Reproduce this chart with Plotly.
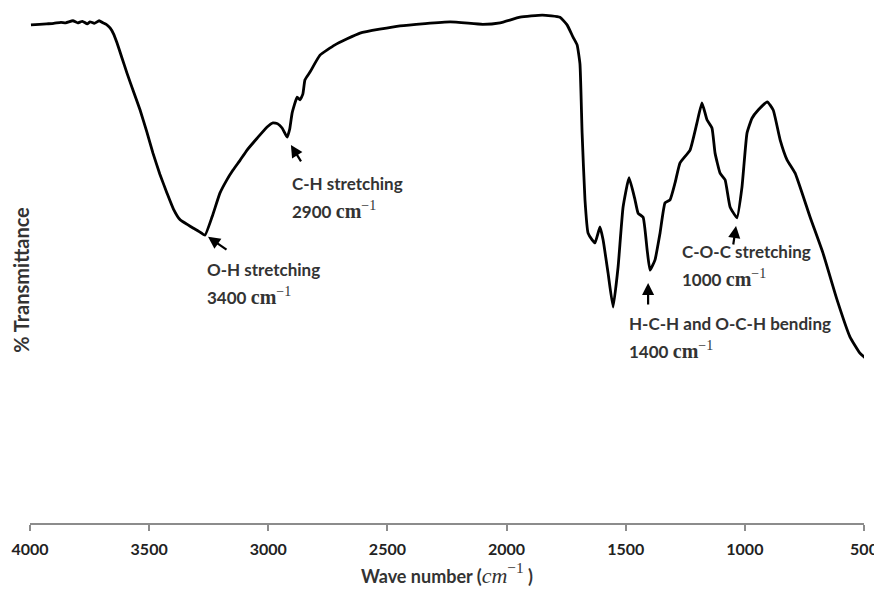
import plotly.graph_objects as go

# Wavenumber (cm^-1) and % transmittance
wavenumber = [3996, 3960, 3930, 3900, 3870, 3850, 3820, 3800, 3780, 3760, 3748, 3730, 3710, 3694,
              3680, 3664, 3650, 3635, 3615, 3593, 3565, 3538, 3510, 3484, 3455, 3425, 3398, 3370,
              3340, 3316, 3290, 3266, 3235, 3203, 3175, 3148, 3120, 3089, 3047, 3005, 2980, 2960,
              2942, 2921, 2910, 2900, 2879, 2867, 2855, 2846, 2825, 2783, 2720, 2615, 2447, 2237,
              2100, 2027, 1943, 1850, 1776, 1746, 1721, 1704, 1692, 1683, 1671, 1658, 1641, 1629,
              1608, 1595, 1574, 1553, 1532, 1511, 1486, 1461, 1448, 1427, 1410, 1398, 1377, 1356,
              1335, 1314, 1293, 1272, 1230, 1201, 1180, 1159, 1138, 1125, 1104, 1083, 1062, 1033,
              1012, 991, 970, 944, 906, 881, 852, 823, 789, 726, 672, 613, 559, 517, 496]
transmittance = [97.1, 97.2, 97.3, 97.4, 97.6, 97.5, 97.9, 97.5, 97.8, 97.3, 97.7, 97.4, 97.9, 97.5,
                 97.2, 96.5, 95.4, 93.6, 90.8, 87.7, 84.0, 80.5, 76.3, 72.1, 68.0, 64.3, 61.2, 59.1,
                 58.2, 57.5, 56.8, 56.1, 59.8, 64.3, 66.8, 68.8, 70.6, 72.7, 75.0, 77.2, 78.0, 77.8,
                 77.0, 75.2, 76.8, 79.9, 83.0, 82.5, 83.6, 86.4, 87.9, 91.2, 93.2, 95.5, 96.9, 97.7,
                 97.2, 97.5, 98.6, 99.0, 98.6, 97.1, 94.7, 93.2, 89.5, 76.0, 63.0, 56.5, 55.2, 54.6,
                 57.7, 55.2, 48.7, 42.1, 49.9, 61.6, 67.3, 63.0, 60.4, 59.6, 53.2, 49.3, 51.3, 56.5,
                 62.4, 63.0, 66.3, 70.2, 72.7, 78.0, 81.9, 78.6, 77.0, 72.1, 68.2, 66.9, 61.6, 59.5,
                 65.5, 76.0, 78.9, 80.5, 82.1, 80.5, 74.7, 70.8, 68.2, 59.6, 52.6, 43.5, 36.3, 33.1, 32.2]

tick_vals = [4000, 3500, 3000, 2500, 2000, 1500, 1000, 500]

band_label = ["O-H stretching", "C-H stretching", "H-C-H and O-C-H bending", "C-O-C stretching"]
band_value = ["3400", "2900", "1400", "1000"]

TXT = "#333333"
SANS = "Lato, 'Open Sans', sans-serif"
SERIF = "'Liberation Serif', 'DejaVu Serif', serif"

fig = go.Figure()
fig.add_trace(go.Scatter(
    x=wavenumber, y=transmittance, mode="lines",
    line=dict(color="black", width=2.8, shape="spline", smoothing=0.4),
    hoverinfo="x+y", showlegend=False))

# arrow heads (data) with tail offsets (pixels)
arrows = [
    (3253, 55.8, 20, 14),
    (2905, 73.7, 11, 18),
    (1406, 46.8, 0, 23),
    (1037, 57.9, -3, 20),
]
texts = [
    (3266, 47.0),
    (2909, 63.7),
    (1494, 36.5),
    (1272, 50.5),
]
annotations = []
for (hx, hy, ax, ay) in arrows:
    annotations.append(dict(x=hx, y=hy, xref="x", yref="y", text="", showarrow=True,
                            ax=ax, ay=ay, arrowhead=2, arrowsize=1.1, arrowwidth=2.2,
                            arrowcolor="black", standoff=0))
for (tx, ty), lab, val in zip(texts, band_label, band_value):
    annotations.append(dict(
        x=tx, y=ty, xref="x", yref="y", xanchor="left", yanchor="middle", align="left",
        showarrow=False, yshift=12.5,
        text=f"<b>{lab}</b>",
        font=dict(family=SANS, size=17, color=TXT)))
    annotations.append(dict(
        x=tx, y=ty, xref="x", yref="y", xanchor="left", yanchor="middle", align="left",
        showarrow=False, yshift=-14,
        text=(f"<b>{val}</b> "
              f"<span style=\"font-family:{SERIF};font-size:20px\"><b>cm</b><sup>−1</sup></span>"),
        font=dict(family=SANS, size=17, color=TXT)))

annotations.append(dict(
    x=-0.0108, y=0.474, xref="paper", yref="paper", showarrow=False, textangle=-90,
    text="<b>% Transmittance</b>", xanchor="center", yanchor="middle",
    font=dict(family=SANS, size=20, color=TXT)))

# page body has an 8px margin, so the figure is slightly smaller and offset
fig.update_layout(
    width=874, height=584,
    margin=dict(l=22, r=18, t=2, b=69),
    paper_bgcolor="white", plot_bgcolor="white",
    annotations=annotations,
    xaxis=dict(
        range=[4000, 500], tickvals=tick_vals, ticktext=[f"<b>{v}</b>" for v in tick_vals],
        showline=True, linecolor="#8c8c8c", linewidth=1.5, ticks="outside", ticklen=6,
        tickcolor="#8c8c8c", tickwidth=1.5, showgrid=False, zeroline=False,
        tickfont=dict(family=SANS, size=16, color="#222222"),
        ticklabelstandoff=5, automargin=False,
        title=dict(text=(f"<b>Wave number (</b><span style=\"font-family:{SERIF};font-size:22px\">"
                         f"<i>cm</i><sup>−1</sup></span><b> )</b>"),
                   font=dict(family=SANS, size=18, color=TXT),
                   standoff=13),
    ),
    yaxis=dict(range=[0, 100], showline=False, showticklabels=False, ticks="",
               showgrid=False, zeroline=False, automargin=False),
)

fig.write_html("out.html")
